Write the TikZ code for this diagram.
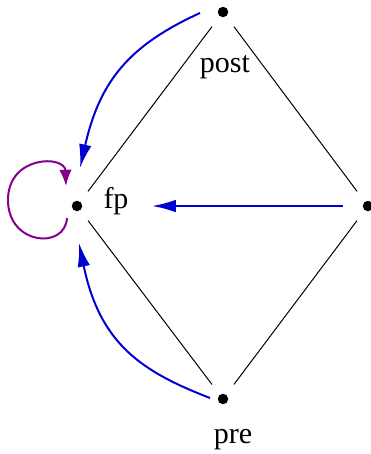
\documentclass[tikz,border=0pt]{standalone}
\usepackage{fontspec}
\setmainfont{Liberation Serif}
\usetikzlibrary{arrows.meta,calc}
\definecolor{arrblue}{RGB}{0,0,210}
\definecolor{loopviolet}{RGB}{135,0,140}
\begin{document}
\begin{tikzpicture}[x=0.4pt,y=-0.4pt,
  dot/.style={circle,fill=black,inner sep=0pt,minimum size=4.2pt},
  lbl/.style={inner sep=0pt,font=\fontsize{12}{14}\selectfont},
  edge/.style={black,line width=0.4pt,shorten <=5pt,shorten >=5pt},
  barrow/.style={arrblue,line width=0.8pt,-{Latex[length=9.5pt,width=5pt]}},
  parrow/.style={loopviolet,line width=0.8pt,-{Latex[length=6.5pt,width=5pt]}}]
\useasboundingbox (0,0) rectangle (371,454);
\node[dot] (post) at (223,12) {};
\node[dot] (fp) at (77,206) {};
\node[dot] (r) at (368,206) {};
\node[dot] (pre) at (223,399) {};
\node[lbl] (postl) at (225,67) {post};
\node[lbl] (fpl) at (116,201) {fp};
\node[lbl] (prel) at (233,440) {pre};
\draw[edge] (post) -- (fp);
\draw[edge] (post) -- (r);
\draw[edge] (fp) -- (pre);
\draw[edge] (r) -- (pre);
\coordinate (a1) at ($(post)+(-23,1)$);
\coordinate (a1e) at ($(fp)+(3,-38)$);
\coordinate (a2) at ($(pre)+(-13,-1)$);
\coordinate (a2e) at ($(fp)+(2,37)$);
\coordinate (a3) at ($(r)+(-25,0)$);
\coordinate (a3e) at ($(fp)+(75,0)$);
\coordinate (l1) at ($(fp)+(-10,12)$);
\coordinate (l2) at ($(fp)+(-11,-20)$);
\draw[barrow] (a1) .. controls (130,45) and (100,80) .. (a1e);
\draw[barrow] (a2) .. controls (143,372) and (100,345) .. (a2e);
\draw[barrow] (a3) -- (a3e);
\draw[parrow] (l1) .. controls (65,250) and (8,245) .. (8,200)
  .. controls (8,155) and (65,155) .. (l2);
\end{tikzpicture}
\end{document}
